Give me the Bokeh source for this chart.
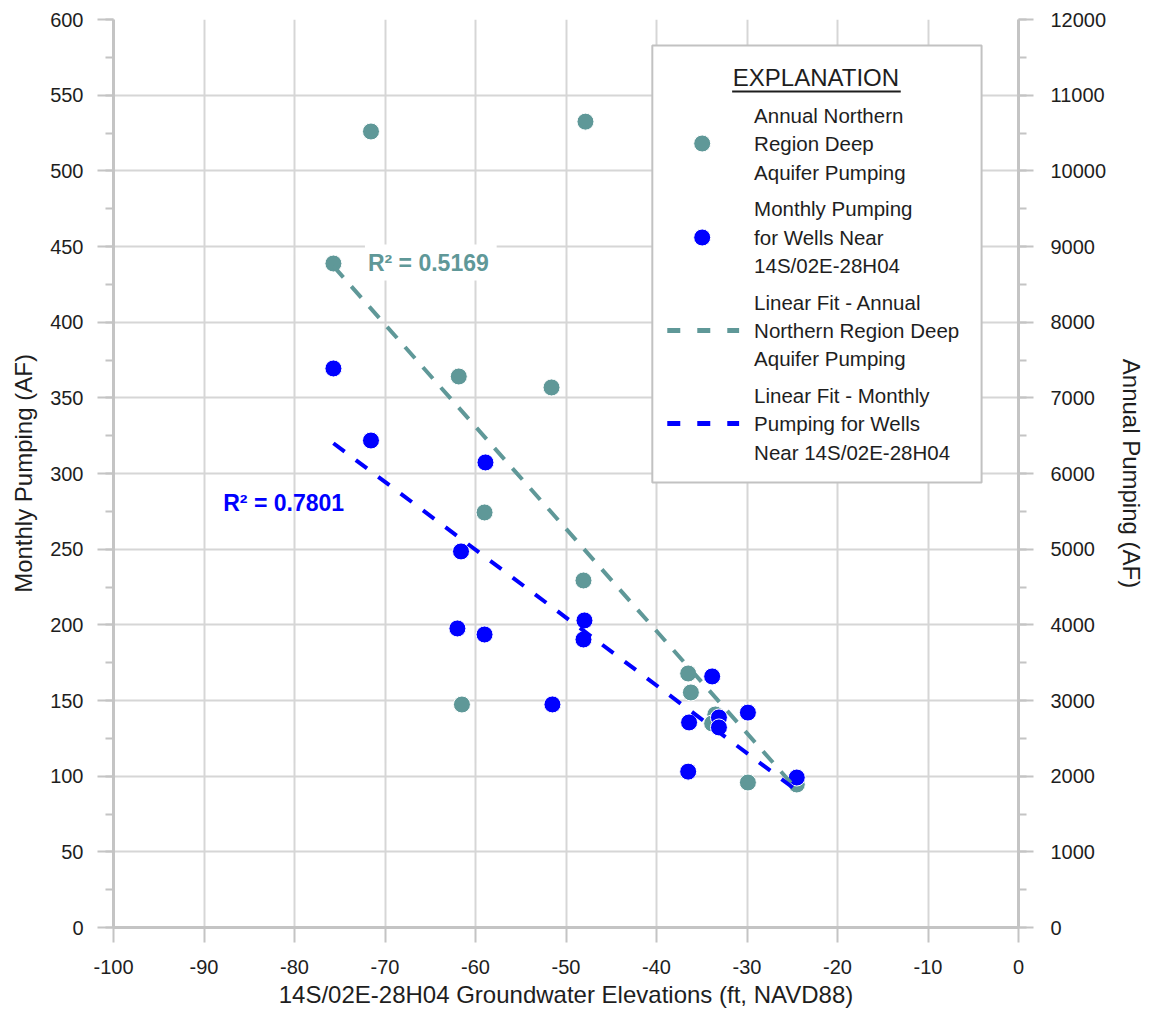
from bokeh.plotting import figure
from bokeh.models import Range1d, LinearAxis, FixedTicker, CustomJSTickFormatter
from bokeh.core.properties import value
from bokeh.embed import file_html
from bokeh.resources import INLINE

# ---------------- data ----------------
annual_x = [-71.55, -47.85, -75.7, -61.85, -51.6, -59.0, -48.07, -61.5,
            -36.5, -36.2, -33.5, -33.85, -29.9, -24.5]
annual_y = [10520, 10650, 8775, 7282, 7137, 5485, 4586, 2947,
            3357, 3106, 2815, 2696, 1916, 1890]

monthly_x = [-75.7, -71.55, -58.9, -61.6, -62.0, -59.0, -47.96, -48.07,
             -51.5, -33.85, -36.4, -33.1, -33.1, -29.9, -36.5, -24.5]
monthly_y = [369.4, 321.8, 307.3, 248.5, 197.6, 193.6, 202.9, 190.3,
             147.4, 165.9, 135.5, 138.8, 132.2, 142.0, 103.0, 99.1]

annual_fit_x = [-75.7, -24.5]
annual_fit_y = [8740, 1825]
monthly_fit_x = [-75.7, -24.5]
monthly_fit_y = [320.0, 90.5]

r2_annual = "R\u00b2 = 0.5169"
r2_monthly = "R\u00b2 = 0.7801"

x_ticks = list(range(-100, 1, 10))
left_ticks = list(range(0, 601, 50))
left_minor = list(range(0, 601, 25))
right_ticks = list(range(0, 12001, 1000))
right_minor = list(range(0, 12001, 500))

x_title = "14S/02E-28H04 Groundwater Elevations (ft, NAVD88)"
left_title = "Monthly Pumping (AF)"
right_title = "Annual Pumping (AF)"
legend_title = "EXPLANATION"
legend_entries = [
    ["Annual Northern", "Region Deep", "Aquifer Pumping"],
    ["Monthly Pumping", "for Wells Near", "14S/02E-28H04"],
    ["Linear Fit - Annual", "Northern Region Deep", "Aquifer Pumping"],
    ["Linear Fit - Monthly", "Pumping for Wells", "Near 14S/02E-28H04"],
]

# ---------------- styles ----------------
TEAL = "#5F9898"
BLUE = "#0000FF"
GRID = "#d6d6d6"
AXIS = "#c4c4c4"
TXT = "#1e1e1e"
FONT = "Liberation Sans"

W, H = 1148, 1018
ML, MT = 113, 19
FW, FH = 907, 908

p = figure(width=W, height=H, output_backend="svg", toolbar_location=None,
           x_range=Range1d(-100, 0), y_range=Range1d(0, 600),
           min_border_left=ML, min_border_right=W - ML - FW,
           min_border_top=MT, min_border_bottom=H - MT - FH,
           background_fill_color="white", border_fill_color="white")
p.outline_line_color = None
p.extra_y_ranges = {"annual": Range1d(0, 12000)}


# layout helpers: picture pixel -> data coordinates (annotations only)
def dx(px):
    return -100 + (px - ML) * 100.0 / FW


def dy(py):
    return (MT + FH - py) * 600.0 / FH


plain = CustomJSTickFormatter(code="return String(tick);")


def style_axis(ax):
    ax.axis_line_color = AXIS
    ax.axis_line_width = 3
    ax.major_tick_line_color = AXIS
    ax.major_tick_line_width = 2
    ax.minor_tick_line_color = AXIS
    ax.minor_tick_line_width = 2
    ax.major_tick_in = 0
    ax.minor_tick_in = 0
    ax.major_tick_out = 15
    ax.minor_tick_out = 8
    ax.major_label_text_font = FONT
    ax.major_label_text_font_size = "20px"
    ax.major_label_text_color = TXT
    ax.axis_label_text_font = FONT
    ax.axis_label_text_font_size = "24px"
    ax.axis_label_text_font_style = "normal"
    ax.axis_label_text_color = TXT
    ax.formatter = plain


xa = p.xaxis[0]
xa.ticker = FixedTicker(ticks=x_ticks, minor_ticks=[])
xa.axis_label = x_title
style_axis(xa)
xa.major_label_standoff = 17
xa.axis_label_standoff = 4

ya = p.yaxis[0]
ya.ticker = FixedTicker(ticks=left_ticks, minor_ticks=left_minor)
ya.axis_label = left_title
style_axis(ya)
ya.major_tick_out = 16
ya.major_label_standoff = 14
ya.axis_label_standoff = 10

ra = LinearAxis(y_range_name="annual",
                ticker=FixedTicker(ticks=right_ticks, minor_ticks=right_minor),
                axis_label=right_title)
style_axis(ra)
ra.major_label_standoff = 17
ra.axis_label_standoff = 9
p.add_layout(ra, "right")

p.xgrid.ticker = FixedTicker(ticks=x_ticks)
p.ygrid.ticker = FixedTicker(ticks=left_ticks)
for g in (p.xgrid[0], p.ygrid[0]):
    g.grid_line_color = GRID
    g.grid_line_width = 2

# ---------------- data marks ----------------
p.scatter(annual_x, annual_y, y_range_name="annual", size=17,
          fill_color=TEAL, line_color="white", line_width=1)
p.scatter(monthly_x, monthly_y, size=17,
          fill_color=BLUE, line_color="white", line_width=1)
p.line(annual_fit_x, annual_fit_y, y_range_name="annual", line_color=TEAL,
       line_width=4, line_dash="15 12")
p.line(monthly_fit_x, monthly_fit_y, line_color=BLUE,
       line_width=4, line_dash="14 14")

# R² labels
p.quad(left=[dx(365)], right=[dx(497)], top=[dy(244)], bottom=[dy(280)],
       fill_color="white", line_color=None)
p.text([dx(368)], [dy(262)], [r2_annual], text_font=value(FONT),
       text_font_size="23px", text_font_style="bold", text_color=TEAL,
       text_baseline="middle", text_align="left")
p.text([dx(223)], [dy(502)], [r2_monthly], text_font=value(FONT),
       text_font_size="23px", text_font_style="bold", text_color=BLUE,
       text_baseline="middle", text_align="left")

# ---------------- legend (EXPLANATION box) ----------------
p.quad(left=[dx(653)], right=[dx(983)], top=[dy(45)], bottom=[dy(482)],
       fill_color="white", line_color="#c2c2c2", line_width=2)
p.text([dx(817)], [dy(77)], [legend_title], text_font=value(FONT),
       text_font_size="24px", text_color=TXT,
       text_baseline="middle", text_align="center")
p.segment(x0=[dx(733)], y0=[dy(91)], x1=[dx(902)], y1=[dy(91)],
          line_color=TXT, line_width=2)

line_centers = [[115, 143, 172], [208, 237, 265], [302, 330, 358], [395, 423, 452]]
lx, ly, lt = [], [], []
for entry, ys in zip(legend_entries, line_centers):
    for t, yy in zip(entry, ys):
        lx.append(dx(755))
        ly.append(dy(yy))
        lt.append(t)
p.text(lx, ly, lt, text_font=value(FONT), text_font_size="20.5px",
       text_color=TXT, text_baseline="middle", text_align="left")

p.scatter([dx(703)], [dy(143)], size=17, fill_color=TEAL, line_color="white")
p.scatter([dx(703)], [dy(237)], size=17, fill_color=BLUE, line_color="white")
p.line([dx(668), dx(740)], [dy(330), dy(330)], line_color=TEAL,
       line_width=5, line_dash="13 17")
p.line([dx(668), dx(740)], [dy(423), dy(423)], line_color=BLUE,
       line_width=5, line_dash="13 17")

open("out.html", "w").write(file_html(p, INLINE))
